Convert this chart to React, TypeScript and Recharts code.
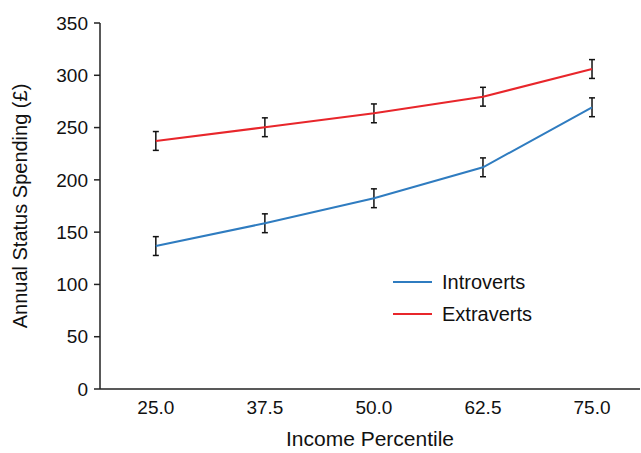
import { LineChart, Line, XAxis, YAxis, ErrorBar } from "recharts";

const percentiles = [25, 37.5, 50, 62.5, 75];
const introverts = [136.7, 158.5, 182.4, 212, 269.4];
const extraverts = [237.2, 250.3, 263.6, 279.5, 306];
const introvertErr = [9, 9, 9, 9, 9];
const extravertErr = [9, 9, 9, 9, 9];
const yTicks = [0, 50, 100, 150, 200, 250, 300, 350];

const FONT = "'Liberation Sans', Arial, sans-serif";
const BLUE = "#2f7cc0";
const RED = "#e8262b";

const data = percentiles.map((p, i) => ({
  p,
  intro: introverts[i],
  introErr: introvertErr[i],
  extra: extraverts[i],
  extraErr: extravertErr[i],
}));

const legendItems = [
  { name: "Introverts", color: BLUE },
  { name: "Extraverts", color: RED },
];

function LegendBox() {
  return (
    <div
      style={{
        position: "absolute",
        left: 393,
        top: 266,
        fontFamily: FONT,
        fontSize: 20,
        color: "#111",
      }}
    >
      {legendItems.map((it) => (
        <div key={it.name} style={{ display: "flex", alignItems: "center", height: 32 }}>
          <div style={{ width: 39, height: 2, background: it.color, marginRight: 10 }} />
          <span>{it.name}</span>
        </div>
      ))}
    </div>
  );
}

export default function App() {
  return (
    <div style={{ position: "fixed", left: 0, top: 0, width: 641, height: 453, background: "#fff" }}>
      <LineChart
        width={641}
        height={453}
        data={data}
        margin={{ top: 23, right: 1, bottom: 0, left: 0 }}
      >
        <XAxis
          dataKey="p"
          type="number"
          domain={[18.6, 80.5]}
          ticks={percentiles}
          tickFormatter={(v: number) => v.toFixed(1)}
          tickLine={false}
          axisLine={{ stroke: "#222", strokeWidth: 1.5 }}
          height={64}
          tickMargin={6}
          tick={{ fill: "#111", fontSize: 19, fontFamily: FONT }}
          label={{
            content: ({ viewBox }: any) => (
              <text
                x={viewBox.x + viewBox.width / 2}
                y={viewBox.y + 57}
                textAnchor="middle"
                fill="#111"
                fontSize={21}
                fontFamily={FONT}
              >
                Income Percentile
              </text>
            ),
          }}
        />
        <YAxis
          type="number"
          domain={[0, 350]}
          ticks={yTicks}
          width={100}
          tickSize={6}
          tickMargin={6}
          tickLine={{ stroke: "#222", strokeWidth: 1.5 }}
          axisLine={{ stroke: "#222", strokeWidth: 1.5 }}
          tick={{ fill: "#111", fontSize: 19, fontFamily: FONT }}
          label={{
            content: ({ viewBox }: any) => {
              const cx = 22;
              const cy = viewBox.y + viewBox.height / 2;
              return (
                <text
                  x={cx}
                  y={cy}
                  transform={`rotate(-90 ${cx} ${cy})`}
                  textAnchor="middle"
                  dominantBaseline="middle"
                  fill="#111"
                  fontSize={20}
                  fontFamily={FONT}
                >
                  Annual Status Spending (£)
                </text>
              );
            },
          }}
        />
        <Line
          type="linear"
          dataKey="intro"
          name="Introverts"
          stroke={BLUE}
          strokeWidth={2}
          dot={false}
          isAnimationActive={false}
        >
          <ErrorBar dataKey="introErr" width={3} stroke="#111" strokeWidth={1.5} direction="y" />
        </Line>
        <Line
          type="linear"
          dataKey="extra"
          name="Extraverts"
          stroke={RED}
          strokeWidth={2}
          dot={false}
          isAnimationActive={false}
        >
          <ErrorBar dataKey="extraErr" width={3} stroke="#111" strokeWidth={1.5} direction="y" />
        </Line>
      </LineChart>
      <LegendBox />
    </div>
  );
}
